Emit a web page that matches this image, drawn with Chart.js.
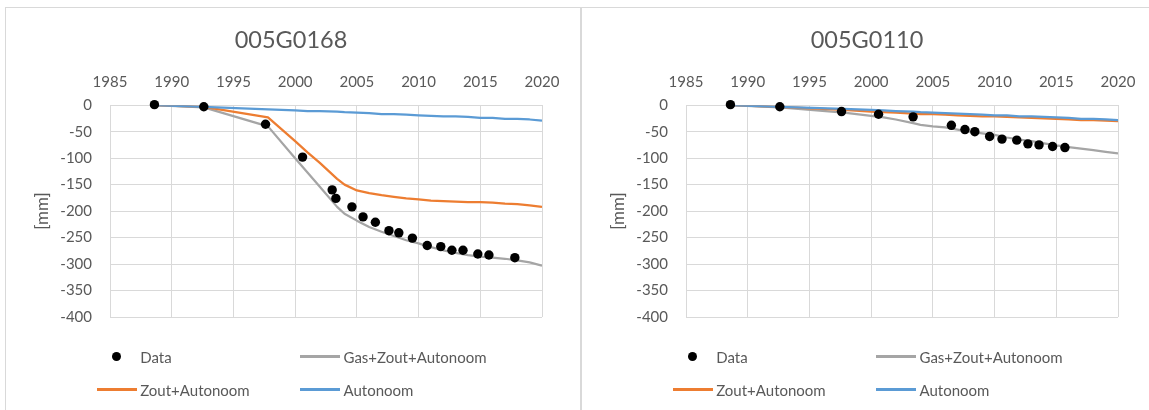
<!DOCTYPE html>
<html>
<head>
<meta charset="utf-8">
<script src="https://cdn.jsdelivr.net/npm/chart.js@4.4.0/dist/chart.umd.min.js"></script>
<style>
  html, body { margin: 0; padding: 0; background: #fff; }
  body { width: 1149px; height: 410px; overflow: hidden; position: relative; font-family: Lato, 'Open Sans', sans-serif; }
  .panel { position: absolute; top: 7px; width: 576px; height: 420px; box-sizing: border-box; border: 1px solid #d9d9d9; background: #fff; }
  .plot { position: absolute; left: 0; top: 0; width: 574px; height: 336px; }
  .legend { position: absolute; left: 90.7px; top: 332px; display: grid; grid-template-columns: 203.3px 240px; grid-auto-rows: 33.3px; color: #595959; font-size: 15px; }
  .legend .item { display: flex; align-items: center; white-space: nowrap; }
  .legend .sym { width: 40px; height: 12px; display: flex; align-items: center; justify-content: center; margin-right: 3.5px; }
  .legend .dot { width: 9.4px; height: 9.4px; border-radius: 50%; }
  .legend .line { width: 40px; height: 3px; }
</style>
</head>
<body>
<div class="panel" style="left:5px"><div class="plot"><canvas id="chartA"></canvas></div><div class="legend" id="legendA"></div></div>
<div class="panel" style="left:581px"><div class="plot"><canvas id="chartB"></canvas></div><div class="legend" id="legendB"></div></div>
<script>
// Tick values for both panels
const xTickValues = [1985, 1990, 1995, 2000, 2005, 2010, 2015, 2020];
const yTickValues = [0, -50, -100, -150, -200, -250, -300, -350, -400];

const seriesLabels = ['Data', 'Gas+Zout+Autonoom', 'Zout+Autonoom', 'Autonoom'];
const seriesColors = ['#000000', '#A5A5A5', '#ED7D31', '#5B9BD5'];

// Model curves share these years
const lineYears = [1988.6, 1992.6, 1997.8, 2000, 2001, 2002, 2003.4, 2004, 2005, 2006, 2007, 2008,
  2009, 2010, 2011, 2012, 2013, 2014, 2015, 2016, 2017, 2018, 2019, 2020];

// 005G0168
const dataYears0168 = [1988.6, 1992.6, 1997.6, 2000.6, 2003.0, 2003.3, 2004.6, 2005.5, 2006.5, 2007.6,
  2008.4, 2009.5, 2010.7, 2011.8, 2012.7, 2013.6, 2014.8, 2015.7, 2017.8];
const dataVals0168 = [1, -3, -36, -98, -160, -176, -192, -211, -221, -237,
  -241, -251, -265, -267, -274, -274, -281, -283, -288];
const gas0168 = [0, -4, -40, -100, -127, -154, -192, -205, -218, -230, -239, -247,
  -255, -261, -268, -274, -279, -283, -286, -288, -290, -293, -297, -303];
const zout0168 = [0, -3, -23, -68, -89, -109, -139, -150, -161, -166, -170, -173,
  -176, -178, -180, -181, -182, -183, -183, -184, -186, -187, -189, -192];
const auto0168 = [0, -3, -8, -10, -11, -11, -12, -13, -14, -15, -17, -17,
  -18, -19, -20, -21, -21, -22, -24, -24, -26, -26, -27, -29];

// 005G0110
const dataYears0110 = [1988.6, 1992.6, 1997.6, 2000.6, 2003.4, 2006.5, 2007.6, 2008.4, 2009.6, 2010.6,
  2011.8, 2012.7, 2013.6, 2014.7, 2015.7];
const dataVals0110 = [1, -3, -12, -17, -22, -38, -46, -50, -59, -64,
  -66, -73, -75, -78, -80];
const gas0110 = [0, -4, -14, -20, -23, -27, -34, -37, -40, -42, -46, -50,
  -53, -56, -61, -65, -68, -72, -76, -79, -82, -85, -88, -91];
const zout0110 = [0, -3, -9, -12, -13, -14, -16, -17, -17, -18, -19, -20,
  -21, -21, -22, -23, -24, -25, -26, -27, -28, -28, -29, -30];
const auto0110 = [0, -3, -7, -9, -10, -11, -12, -13, -14, -15, -16, -17,
  -18, -19, -19, -21, -21, -22, -23, -24, -26, -26, -27, -28];

const textColor = '#595959';
const gridColor = '#d9d9d9';

const toPoints = (xs, ys) => xs.map((x, i) => ({ x, y: ys[i] }));

function lineSet(idx, ys, order) {
  return {
    label: seriesLabels[idx],
    data: toPoints(lineYears, ys),
    showLine: true,
    borderColor: seriesColors[idx],
    backgroundColor: seriesColors[idx],
    borderWidth: 2.25,
    pointRadius: 0,
    tension: 0,
    borderJoinStyle: 'round',
    order
  };
}

function makeChart(canvasId, legendId, title, dYears, dVals, gas, zout, auto) {
  const chart = new Chart(document.getElementById(canvasId), {
    type: 'scatter',
    data: {
      datasets: [
        {
          label: seriesLabels[0],
          data: toPoints(dYears, dVals),
          backgroundColor: seriesColors[0],
          borderWidth: 0,
          pointRadius: 4.7,
          clip: false,
          order: 0
        },
        lineSet(1, gas, 3),
        lineSet(2, zout, 2),
        lineSet(3, auto, 1)
      ]
    },
    options: {
      responsive: true,
      maintainAspectRatio: false,
      animation: false,
      devicePixelRatio: 1,
      layout: { padding: { left: 34, right: 38, top: 0, bottom: 21 } },
      plugins: {
        legend: { display: false },
        tooltip: { enabled: false },
        title: {
          display: true,
          text: title,
          color: textColor,
          font: { family: 'Lato', size: 23.5, weight: 'normal' },
          padding: { top: 18, bottom: 10 }
        }
      },
      scales: {
        x: {
          type: 'linear',
          position: 'top',
          min: 1985,
          max: 2020,
          afterBuildTicks: (s) => { s.ticks = xTickValues.map(v => ({ value: v })); },
          afterFit: (s) => { s.height = 41; },
          grid: { color: gridColor, lineWidth: 1, drawTicks: false },
          border: { color: gridColor },
          ticks: { color: textColor, font: { family: 'Lato', size: 15 }, padding: 14, maxRotation: 0, callback: (v) => String(v) }
        },
        y: {
          type: 'linear',
          min: -400,
          max: 0,
          afterBuildTicks: (s) => { s.ticks = yTickValues.map(v => ({ value: v })); },
          afterFit: (s) => { s.width = 70; },
          grid: { color: gridColor, lineWidth: 1, drawTicks: false },
          border: { color: gridColor },
          ticks: { color: textColor, font: { family: 'Lato', size: 15 }, padding: 18, callback: (v) => String(v) },
          title: {
            display: true,
            text: '[mm]',
            color: textColor,
            font: { family: 'Lato', size: 17, lineHeight: 1 },
            padding: { top: -5.5, bottom: 0 }
          }
        }
      }
    }
  });
  buildLegend(document.getElementById(legendId), chart);
  return chart;
}

// Excel-like 2-column legend built from the chart's datasets
function buildLegend(box, chart) {
  chart.data.datasets.forEach((ds) => {
    const item = document.createElement('div');
    item.className = 'item';
    const sym = document.createElement('span');
    sym.className = 'sym';
    const mark = document.createElement('span');
    mark.className = ds.showLine ? 'line' : 'dot';
    mark.style.background = ds.showLine ? ds.borderColor : ds.backgroundColor;
    sym.appendChild(mark);
    const txt = document.createElement('span');
    txt.textContent = ds.label;
    item.appendChild(sym);
    item.appendChild(txt);
    box.appendChild(item);
  });
}

makeChart('chartA', 'legendA', '005G0168', dataYears0168, dataVals0168, gas0168, zout0168, auto0168);
makeChart('chartB', 'legendB', '005G0110', dataYears0110, dataVals0110, gas0110, zout0110, auto0110);
</script>
</body>
</html>
